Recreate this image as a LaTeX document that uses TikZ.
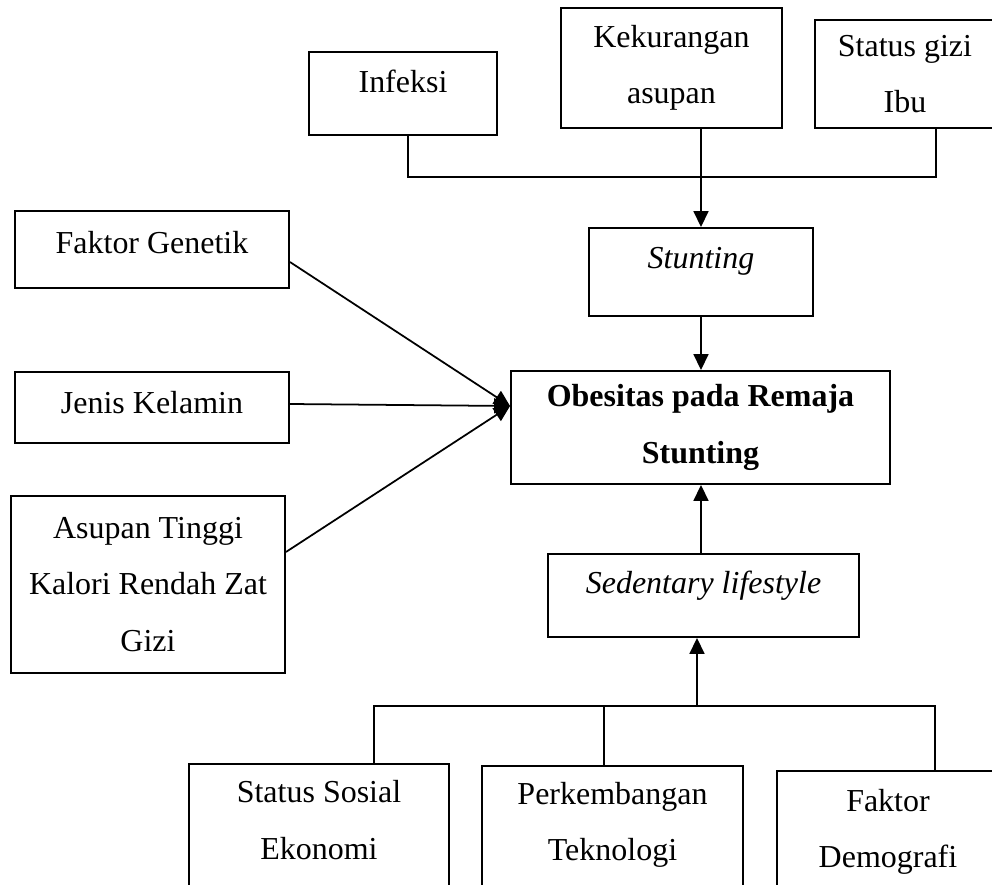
\documentclass[tikz,border=0pt]{standalone}
\usepackage{fontspec}
\setmainfont{Liberation Serif}
\usetikzlibrary{
  arrows.meta,
  positioning,
}

\begin{document}
\begin{tikzpicture}[
  x=0.02cm, y=-0.02cm,
  box/.style={draw, line width=1.1pt, align=center, inner sep=0pt, font=\fontsize{18.2}{32.2}\selectfont},
  ln/.style={line width=1pt},
  arr/.style={line width=1pt, -{Triangle[length=0.32cm, width=0.3cm]}}
]
\useasboundingbox (0,0) rectangle (992,885);
\node[box, minimum width=3.76cm, minimum height=1.66cm, text depth=0.5cm] (inf) at (403,93.5) {Infeksi};
\node[box, minimum width=4.42cm, minimum height=2.4cm] (kur) at (671.5,68) {Kekurangan\\asupan};
\node[box, minimum width=3.6cm, minimum height=2.16cm] (gizi) at (905,74) {Status gizi\\Ibu};
\node[box, minimum width=4.48cm, minimum height=1.76cm, text depth=0.58cm] (stunt) at (701,272) {\textit{Stunting}};
\node[box, minimum width=7.58cm, minimum height=2.26cm] (obes) at (700.5,427.5) {\textbf{Obesitas pada Remaja}\\\textbf{Stunting}};
\node[box, minimum width=5.48cm, minimum height=1.54cm, text depth=0.3cm] (gen) at (152,249.5) {Faktor Genetik};
\node[box, minimum width=5.48cm, minimum height=1.42cm, text depth=0.22cm] (jk) at (152,407.5) {Jenis Kelamin};
\node[box, minimum width=5.48cm, minimum height=3.54cm] (asup) at (148,584.5) {Asupan Tinggi\\Kalori Rendah Zat\\Gizi};
\node[box, minimum width=6.22cm, minimum height=1.66cm, text depth=0.52cm] (sed) at (703.5,595.5) {\textit{Sedentary lifestyle}};
\node[box, minimum width=5.2cm, minimum height=2.72cm, text depth=0.48cm] (sos) at (319,832) {Status Sosial\\Ekonomi};
\node[box, minimum width=5.22cm, minimum height=2.68cm, text depth=0.46cm] (tek) at (612.5,833) {Perkembangan\\Teknologi};
\node[box, minimum width=4.44cm, minimum height=2.58cm, text depth=0.28cm] (demo) at (888,835.5) {Faktor\\Demografi};

\coordinate (jtop) at (701,177);
\draw[ln] ([xshift=0.1cm]inf.south) |- (jtop) -| ([xshift=0.62cm]gizi.south);
\draw[arr] (kur.south -| jtop) -- (stunt.north);
\draw[arr] (stunt.south) -- (stunt.south |- obes.north);

\coordinate (jleft) at ([yshift=0.43cm]obes.west);
\draw[arr] ([yshift=-0.25cm]gen.east) -- (jleft);
\draw[arr] ([yshift=0.07cm]jk.east) -- (jleft);
\draw[arr] ([yshift=0.65cm]asup.east) -- (jleft);

\draw[arr] (jtop |- sed.north) -- (jtop |- obes.south);
\coordinate (jbot) at (697,706);
\draw[arr] (jbot) -- (jbot |- sed.south);
\draw[ln] ([xshift=1.1cm]sos.north) |- (jbot) -| ([xshift=0.94cm]demo.north);
\draw[ln] ([xshift=-0.17cm]tek.north) -- ([xshift=-0.17cm]tek.north |- jbot);
\end{tikzpicture}
\end{document}
